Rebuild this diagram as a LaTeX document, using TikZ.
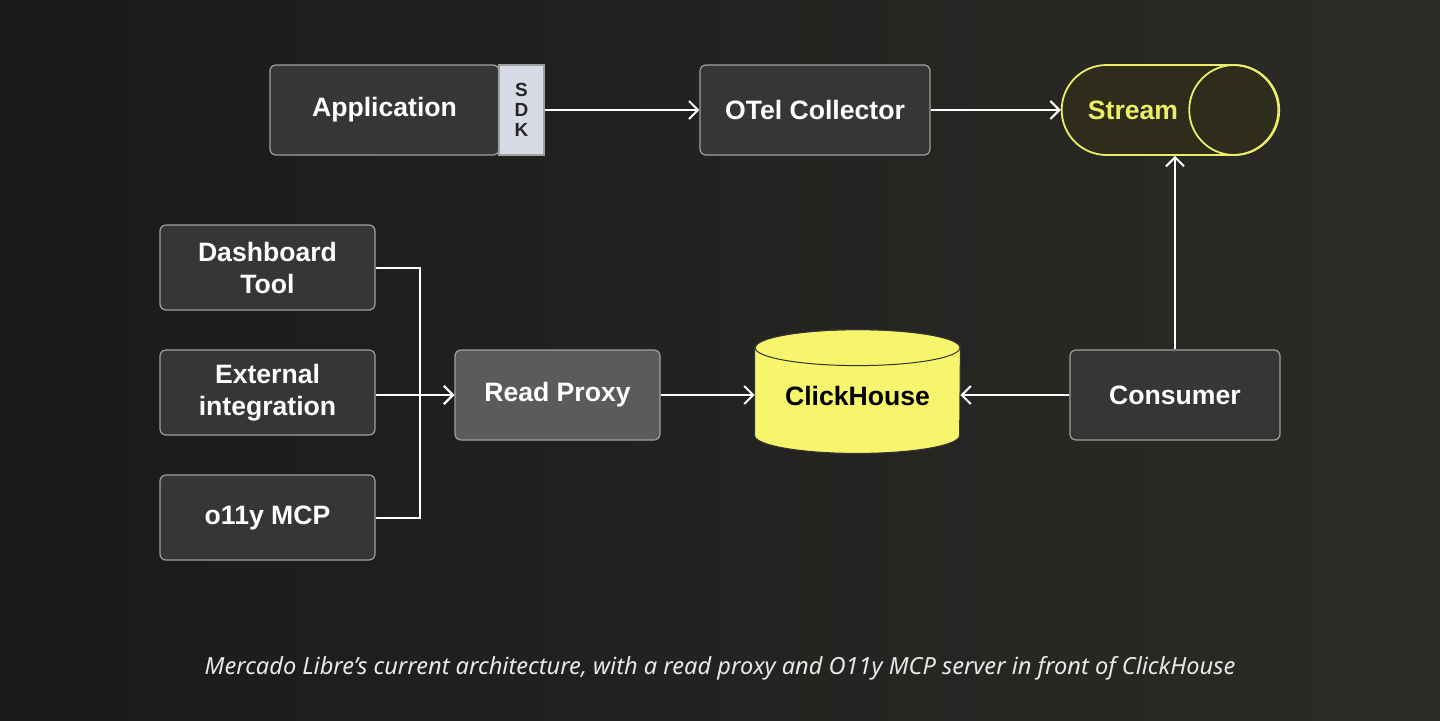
\documentclass[tikz,border=0pt]{standalone}
\usepackage{fontspec}
\setmainfont{Liberation Sans}
\newfontfamily\captionfont{Noto Sans}
\usetikzlibrary{arrows.meta,shapes.misc}

\definecolor{bgleft}{HTML}{1A1A1A}
\definecolor{bgright}{HTML}{2C2B27}
\definecolor{boxfill}{HTML}{363636}
\definecolor{boxline}{HTML}{A0A0A0}
\definecolor{proxyfill}{HTML}{5B5B5B}
\definecolor{sdkfill}{HTML}{D8DBE6}
\definecolor{chyellow}{HTML}{F6F56B}
\definecolor{streamfill}{HTML}{2E2C1B}
\definecolor{streamline}{HTML}{EEEE66}
\definecolor{captiontext}{HTML}{E8E8E8}

\begin{document}
\begin{tikzpicture}[x=0.5pt, y=-0.5pt,
    box/.style={draw=boxline, fill=boxfill, rounded corners=3pt, line width=0.6pt,
      text=white, font=\fontsize{13.3}{16}\selectfont\bfseries, align=center},
    flow/.style={draw=white, line width=1pt, -{Straight Barb[length=4.5pt,width=9pt]}}]
    % Background
    \fill[left color=bgleft, right color=bgright] (0,0) rectangle (1440,720);
    \useasboundingbox (0,0) rectangle (1440,720);

    % Nodes
    \node[box, minimum width=114.5pt, minimum height=45pt] (app) at (384.5,110) {Application};
    \node[draw=boxline, fill=sdkfill, line width=0.6pt, minimum width=22.5pt, minimum height=45pt,
      align=center, font=\fontsize{9.5}{10}\selectfont\bfseries, text=black!85] (sdk) at (521.5,110) {S\\D\\K};
    \node[box, minimum width=115pt, minimum height=45pt] (otel) at (815,110) {OTel Collector};
    \node[rounded rectangle, draw=streamline, fill=streamfill, line width=0.9pt, minimum width=115pt,
      minimum height=45pt, text=streamline, font=\fontsize{13.3}{16}\selectfont\bfseries] (stream) at (1170,110) {\hspace*{-37pt}Stream};
    \draw[streamline, line width=0.9pt] ([xshift=-22.5pt]stream.east) circle (22.5pt);

    \node[box, minimum width=107.5pt, minimum height=42.5pt] (dash) at (267.5,267.5) {Dashboard\\Tool};
    \node[box, minimum width=107.5pt, minimum height=42.5pt] (ext) at (267.5,392.5) {External\\integration};
    \node[box, minimum width=107.5pt, minimum height=42.5pt] (mcp) at (267.5,517.5) {o11y MCP};

    \node[box, fill=proxyfill, minimum width=102.5pt, minimum height=45pt] (proxy) at (557.5,395) {Read Proxy};

    \node[minimum width=102.5pt, minimum height=43.5pt, inner sep=0pt] (ch) at (857.5,391.5) {};
    \draw[fill=chyellow, draw=black!80, line width=0.5pt]
      (ch.north west) -- (ch.south west)
      arc[start angle=180, end angle=360, x radius=51.25pt, y radius=9pt]
      -- (ch.north east)
      arc[start angle=0, end angle=180, x radius=51.25pt, y radius=9pt] -- cycle;
    \draw[draw=black!80, line width=0.5pt] (ch.north) ellipse[x radius=51.25pt, y radius=9pt];
    \node[font=\fontsize{13.3}{16}\selectfont\bfseries, text=black] at ([yshift=-2pt]ch.center) {ClickHouse};

    \node[box, minimum width=105pt, minimum height=45pt] (cons) at (1175,395) {Consumer};

    % Edges
    \draw[flow] (sdk) -- (otel);
    \draw[flow] (otel) -- (stream);
    \draw[flow] (dash.east) -- (420,267.5) -- (420,395) -- (proxy.west);
    \draw[flow] (ext.east |- proxy.west) -- (proxy.west);
    \draw[flow] (mcp.east) -- (420,517.5) -- (420,395) -- (proxy.west);
    \draw[flow] (proxy.east) -- (ch.west |- proxy.east);
    \draw[flow] (cons.west) -- (ch.east |- cons.west);
    \draw[flow] (cons.north) -- (cons.north |- stream.south);

    % Caption
    \node[text=captiontext, font=\captionfont\fontsize{11.8}{14}\selectfont\itshape] (caption) at (720,668)
      {Mercado Libre’s current architecture, with a read proxy and O11y MCP server in front of ClickHouse};
\end{tikzpicture}
\end{document}
